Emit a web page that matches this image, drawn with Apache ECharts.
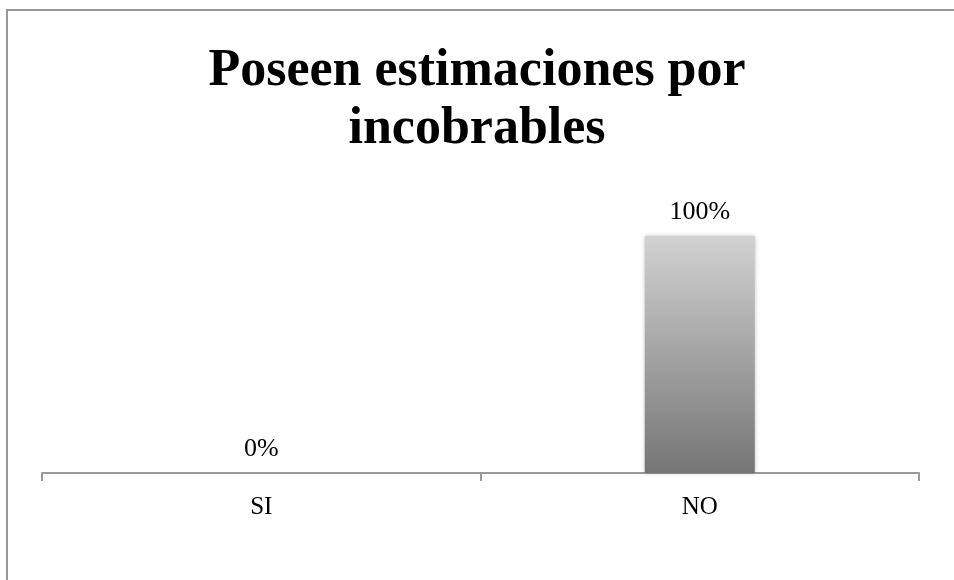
<!DOCTYPE html>
<html>
<head>
<meta charset="utf-8">
<script src="https://cdn.jsdelivr.net/npm/echarts@6/dist/echarts.min.js"></script>
<style>
  html, body { margin: 0; padding: 0; background: #fff; }
  #chart { width: 954px; height: 580px; }
</style>
</head>
<body>
<div id="chart"></div>
<script>
// Survey answers: share of respondents with allowances for doubtful accounts
const categories = ['SI', 'NO'];
const percentages = [0, 100];
const chartTitle = 'Poseen estimaciones por\nincobrables';

const serif = '"Liberation Serif", "DejaVu Serif", serif';

const chart = echarts.init(document.getElementById('chart'), null, { renderer: 'canvas' });

chart.setOption({
  animation: false,
  backgroundColor: '#ffffff',
  title: {
    text: chartTitle,
    left: 'center',
    top: 38,
    textStyle: {
      fontFamily: serif,
      fontWeight: 'bold',
      fontSize: 52,
      lineHeight: 58,
      color: '#000'
    }
  },
  graphic: [{
    type: 'rect',
    silent: true,
    shape: { x: 7, y: 10, width: 1000, height: 1000 },
    style: { fill: 'none', stroke: '#999', lineWidth: 2 }
  }],
  grid: { left: 42, right: 35, top: 236, bottom: 107 },
  xAxis: {
    type: 'category',
    data: categories,
    axisLine: { lineStyle: { color: '#9a9a9a', width: 2 } },
    axisTick: { show: true, length: 8, lineStyle: { color: '#9a9a9a', width: 2 } },
    axisLabel: {
      margin: 22,
      fontFamily: serif,
      fontSize: 25,
      color: '#000'
    }
  },
  yAxis: {
    type: 'value',
    min: 0,
    max: 100,
    show: false,
    splitLine: { show: false }
  },
  series: [{
    type: 'bar',
    data: percentages,
    barWidth: 110,
    itemStyle: {
      color: new echarts.graphic.LinearGradient(0, 0, 0, 1, [
        { offset: 0, color: '#d2d2d2' },
        { offset: 1, color: '#757575' }
      ]),
      shadowBlur: 4,
      shadowColor: 'rgba(0,0,0,0.25)'
    },
    label: {
      show: true,
      position: 'top',
      distance: 11,
      formatter: '{c}%',
      fontFamily: serif,
      fontSize: 26,
      color: '#000'
    }
  }]
});
</script>
</body>
</html>
